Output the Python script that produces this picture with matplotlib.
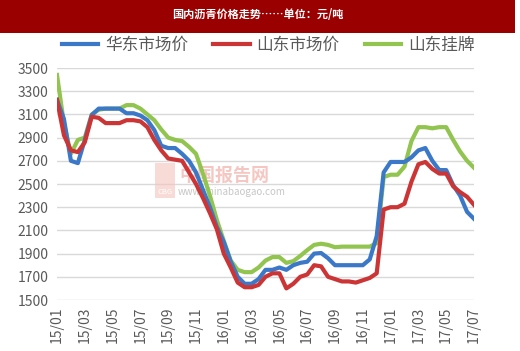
import numpy as np
import matplotlib
matplotlib.use('Agg')
import matplotlib.pyplot as plt
from matplotlib.patches import Rectangle

plt.rcParams['font.family'] = ['Noto Sans CJK SC', 'DejaVu Sans']

# half-month steps from 2015/01 to 2017/07
tick_labels = ['15/01', '15/03', '15/05', '15/07', '15/09', '15/11',
               '16/01', '16/03', '16/05', '16/07', '16/09', '16/11',
               '17/01', '17/03', '17/05', '17/07']

huadong = [3225, 3060, 2700, 2680, 2880, 3095, 3150, 3150, 3150, 3150,
           3110, 3110, 3090, 3050, 2965, 2830, 2810, 2810, 2760, 2700,
           2600, 2450, 2300, 2130, 2000, 1830, 1700, 1640, 1640, 1680,
           1760, 1760, 1780, 1760, 1800, 1820, 1830, 1900, 1905, 1860,
           1800, 1800, 1800, 1800, 1800, 1850, 2050, 2600, 2690, 2690,
           2690, 2730, 2790, 2810, 2700, 2620, 2620, 2490, 2400, 2260,
           2200]

shandong = [3225, 2920, 2790, 2775, 2860, 3080, 3070, 3025, 3025, 3025,
            3050, 3050, 3040, 2990, 2880, 2790, 2720, 2710, 2700, 2600,
            2500, 2380, 2250, 2110, 1900, 1780, 1650, 1610, 1610, 1630,
            1700, 1730, 1730, 1600, 1640, 1700, 1720, 1800, 1790, 1700,
            1680, 1660, 1660, 1650, 1670, 1690, 1730, 2280, 2300, 2300,
            2330, 2520, 2670, 2690, 2630, 2590, 2590, 2480, 2430, 2390,
            2320]

guapai = [3440, 3020, 2760, 2880, 2900, 3100, 3140, 3150, 3150, 3150,
          3180, 3180, 3150, 3100, 3050, 2970, 2900, 2880, 2870, 2820,
          2760, 2590, 2400, 2190, 2010, 1840, 1760, 1740, 1740, 1780,
          1840, 1870, 1870, 1820, 1835, 1880, 1930, 1975, 1985, 1975,
          1955, 1960, 1960, 1960, 1960, 1960, 1990, 2560, 2580, 2580,
          2650, 2870, 2990, 2990, 2980, 2990, 2990, 2880, 2780, 2700,
          2640]

x = np.arange(len(huadong))

fig = plt.figure(figsize=(5.2, 3.51), dpi=100)
fig.patch.set_facecolor('white')

# title bar
fig.patches.append(Rectangle((0, 1 - 33 / 351), 515 / 520, 33 / 351,
                             transform=fig.transFigure, facecolor='#9b0000',
                             edgecolor='none', zorder=0))
fig.text(258 / 520, 1 - 15 / 351, '国内沥青价格走势……单位：元/吨',
         color='white', fontsize=8, fontweight='bold', ha='center', va='center')

ax = fig.add_axes([57 / 520, 1 - 300 / 351, 417 / 520, 232 / 351])

ax.plot(x, huadong, color='#3c78c8', lw=3, label='华东市场价', zorder=3)
ax.plot(x, shandong, color='#cc3535', lw=3, label='山东市场价', zorder=4)
ax.plot(x, guapai, color='#92c450', lw=3, label='山东挂牌', zorder=2)

ax.set_xlim(0, 60)
ax.set_ylim(1500, 3500)
ax.set_yticks(np.arange(1500, 3501, 200))
ax.set_xticks(np.arange(0, 61, 4))
ax.set_xticklabels(tick_labels, rotation=90)
ax.tick_params(axis='both', length=0, labelsize=10, colors='#595959')
ax.tick_params(axis='x', pad=5)
ax.tick_params(axis='y', pad=6)
ax.grid(axis='y', color='#d9d9d9', lw=1)
ax.set_axisbelow(True)
for s in ax.spines.values():
    s.set_visible(False)

# watermark
ax.add_patch(Rectangle((98 / 417 * 60, 2380), 20 / 417 * 60, 300,
                       facecolor='#f4c4bc', edgecolor='none', alpha=0.6, zorder=1))
ax.text(100 / 417 * 60, 2410, 'CBG', color='white', fontsize=5.5, zorder=1)
ax.text(122 / 417 * 60, 2575, '中国报告网', color='#f0b0a8', fontsize=13,
        fontweight='bold', alpha=0.7, va='center', zorder=1)
ax.text(121 / 417 * 60, 2430, 'www.chinabaogao.com', color='#b8b8b8', fontsize=7,
        alpha=0.8, va='center', zorder=1)

fig.legend(loc='center', bbox_to_anchor=(268 / 520, 1 - 45 / 351), ncol=3,
           frameon=False, fontsize=12, handlelength=2.2, columnspacing=1.5,
           handletextpad=0.4, labelcolor='#595959')

fig.savefig('out.png', dpi=100)
